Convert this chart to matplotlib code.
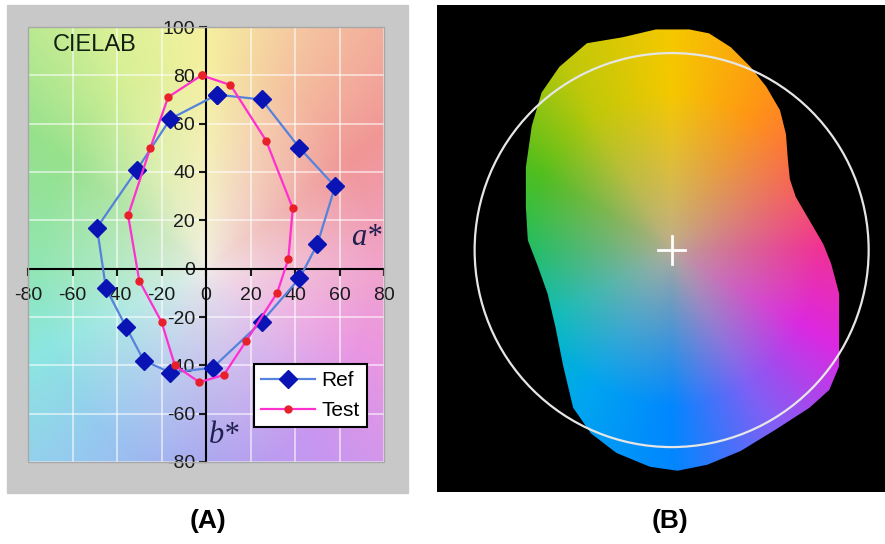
import numpy as np
import matplotlib.pyplot as plt
from matplotlib.patches import Rectangle, Polygon, Circle

plt.rcParams['font.family'] = ['Liberation Sans', 'DejaVu Sans']
plt.rcParams['axes.unicode_minus'] = False

# gamut points (a*, b*)
ref_a = [5, 25, 42, 58, 50, 42, 25, 3, -16, -28, -36, -45, -49, -31, -16]
ref_b = [72, 70, 50, 34, 10, -4, -22, -41, -43, -38, -24, -8, 17, 41, 62]
test_a = [-2, 11, 27, 39, 37, 32, 18, 8, -3, -14, -20, -30, -35, -25, -17]
test_b = [80, 76, 53, 25, 4, -10, -30, -44, -47, -40, -22, -5, 22, 50, 71]

x_ticks = list(range(-80, 81, 20))
y_ticks = list(range(-80, 101, 20))

# outline of the gamut blob in panel B (circle radius = 100)
blob_x = [9, -8, -25, -43, -57, -66, -71, -74, -74, -73, -68, -63, -59, -55, -50, -41,
          -28, -11, 3, 18, 35, 53, 70, 80, 85, 85, 85, 81, 77, 70, 63, 60, 59, 58,
          55, 48, 40, 30, 19]
blob_y = [112, 112, 108, 105, 93, 80, 63, 42, 22, 5, -8, -22, -39, -59, -80, -93,
          -103, -110, -112, -109, -102, -91, -80, -71, -59, -42, -22, -7, 3, 15, 27,
          36, 46, 59, 71, 83, 93, 103, 110]
ring_r = 100

# hue anchors (angle in degrees -> rgb)
pastel_ang = [0, 35, 65, 90, 115, 145, 180, 205, 235, 270, 305, 335, 360]
pastel_rgb = [(240, 165, 205), (240, 150, 150), (245, 195, 160), (245, 240, 160),
              (215, 240, 150), (150, 225, 140), (145, 230, 180), (140, 230, 225),
              (150, 200, 240), (170, 165, 240), (200, 150, 240), (235, 150, 225),
              (240, 165, 205)]
vivid_ang = [0, 30, 60, 90, 120, 150, 180, 210, 240, 270, 300, 330, 360]
vivid_rgb = [(240, 50, 150), (250, 100, 80), (255, 150, 20), (245, 200, 0),
             (190, 200, 10), (80, 190, 30), (30, 190, 100), (0, 190, 190),
             (0, 165, 240), (0, 135, 255), (130, 95, 245), (220, 40, 225),
             (240, 50, 150)]


def hue_field(a, b, angs, cols, center, rx, ry, gamma):
    ang = np.degrees(np.arctan2(b, a)) % 360
    cols = np.array(cols, dtype=float)
    rgb = np.stack([np.interp(ang, angs, cols[:, i]) for i in range(3)], -1)
    r = np.clip(np.hypot(a / rx, b / ry), 0, 1) ** gamma
    out = np.array(center, dtype=float) * (1 - r[..., None]) + rgb * r[..., None]
    return out / 255


fig = plt.figure(figsize=(8.85, 5.44), dpi=100)
W, H = 885, 544

# gray frame behind panel A
fig.patches.append(Rectangle((7 / W, 1 - 493 / H), 401 / W, 488 / H,
                             transform=fig.transFigure, color='#c8c8c8', zorder=-1))

ax = fig.add_axes([28 / W, 1 - 462 / H, 356 / W, 435 / H])
aa, bb = np.meshgrid(np.linspace(-80, 80, 320), np.linspace(100, -80, 360))
bg = hue_field(aa, bb, pastel_ang, pastel_rgb, (242, 238, 232), 75, 85, 0.7)
ax.imshow(bg, extent=[-80, 80, -80, 100], aspect='auto', zorder=0)
ax.set_xlim(-80, 80)
ax.set_ylim(-80, 100)
ax.set_axisbelow(True)
ax.grid(True, color='white', alpha=0.6, lw=1.3)
ax.set_xticks(x_ticks)
ax.set_yticks(y_ticks)
for s in ['top', 'right']:
    ax.spines[s].set_visible(False)
for s in ['left', 'bottom']:
    ax.spines[s].set_position(('data', 0))
    ax.spines[s].set_linewidth(1.5)
ax.tick_params(direction='out', length=5, width=1.5, labelsize=14, colors='#1a1a1a')
ax.tick_params(axis='x', pad=8)
ax.tick_params(axis='y', pad=3)
ax.add_patch(Rectangle((0, 0), 1, 1, transform=ax.transAxes, fill=False,
                       edgecolor='#a8a8a8', lw=1, clip_on=False, zorder=5))

ax.plot(ref_a + ref_a[:1], ref_b + ref_b[:1], color='#5583dc', lw=1.6,
        marker='D', ms=9.5, mfc='#0a14b4', mec='#0a14b4', label='Ref', zorder=6)
ax.plot(test_a + test_a[:1], test_b + test_b[:1], color='#ff2fd0', lw=1.6,
        marker='o', ms=5, mfc='#e8202a', mec='#e8202a', label='Test', zorder=6)

ax.text(-69, 92.5, 'CIELAB', fontsize=17, color='#102010', va='center', ha='left')
ax.text(72, 13, 'a*', family=['Liberation Serif'], style='italic', fontsize=22,
        color='#202050', ha='center', va='center')
ax.text(8, -69, 'b*', family=['Liberation Serif'], style='italic', fontsize=22,
        color='#202050', ha='center', va='center')

leg = ax.legend(loc='lower right', bbox_to_anchor=(0.952, 0.08), fontsize=15,
                frameon=True, fancybox=False, framealpha=1, edgecolor='black',
                handlelength=2.6, borderpad=0.35, labelspacing=0.5,
                borderaxespad=0, handletextpad=0.3)
leg.get_frame().set_linewidth(1.5)
leg.set_zorder(10)

# panel B
ax2 = fig.add_axes([437 / W, 1 - 492 / H, 448 / W, 487 / H])
ax2.set_facecolor('black')
ax2.set_xlim(-119.1, 108.3)
ax2.set_ylim(-122.8, 124.4)
ax2.set_xticks([])
ax2.set_yticks([])
for s in ax2.spines.values():
    s.set_visible(False)

xx, yy = np.meshgrid(np.linspace(-90, 90, 400), np.linspace(120, -120, 500))
blob_img = hue_field(xx, yy, vivid_ang, vivid_rgb, (185, 172, 150), 75, 80, 0.8)
blob = Polygon(np.column_stack([blob_x, blob_y]), closed=True, facecolor='none',
               edgecolor='none')
ax2.add_patch(blob)
im = ax2.imshow(blob_img, extent=[-90, 90, -120, 120], aspect='auto', zorder=1)
im.set_clip_path(blob)

ax2.add_patch(Circle((0, 0), ring_r, fill=False, edgecolor='#e6e6e6', lw=1.6, zorder=3))
ax2.plot([-7, 7], [0, 0], color='white', lw=2, zorder=4)
ax2.plot([0, 0], [-7, 7], color='white', lw=2, zorder=4)

fig.text(208 / W, 1 - 521 / H, '(A)', fontsize=19, fontweight='bold',
         ha='center', va='center')
fig.text(670 / W, 1 - 521 / H, '(B)', fontsize=19, fontweight='bold',
         ha='center', va='center')

fig.savefig('out.png', dpi=100)
